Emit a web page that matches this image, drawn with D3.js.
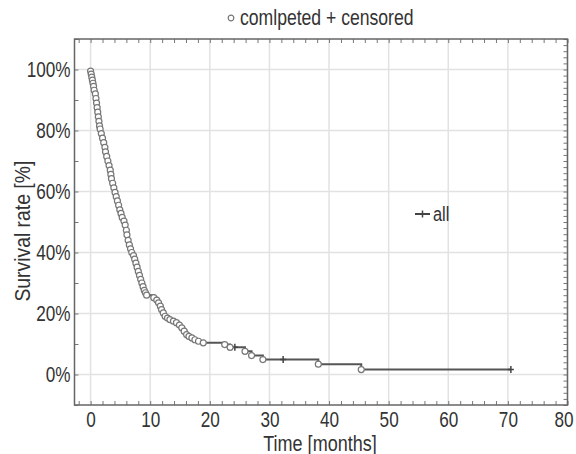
<!DOCTYPE html>
<html>
<head>
<meta charset="utf-8">
<script src="https://cdn.jsdelivr.net/npm/d3@7"></script>
<style>
  body { margin: 0; background: #fff; }
  text { font-family: "Liberation Sans Narrow", "Liberation Sans", Arial, sans-serif; fill: #333; }
</style>
</head>
<body>
<div id="chart"></div>
<script>
// completed events (months, survival %)
const eventTimes = [0.0, 0.1, 0.2, 0.3, 0.4, 0.5, 0.6, 0.8, 0.9, 1.0, 1.1, 1.2, 1.3, 1.4, 1.5, 1.6,
  1.8, 2.0, 2.2, 2.4, 2.5, 2.7, 2.9, 3.1, 3.3, 3.4, 3.5, 3.7, 3.9, 4.1, 4.3, 4.5, 4.7, 4.9,
  5.1, 5.3, 5.6, 5.8, 6.0, 6.1, 6.3, 6.5, 6.7, 6.9, 7.2, 7.4, 7.6, 7.8, 8.0, 8.2, 8.4, 8.6,
  8.8, 9.0, 9.2, 9.4, 10.6, 11.1, 11.4, 11.7, 11.9, 12.2, 12.5, 12.9, 13.3, 13.9, 14.4, 14.9,
  15.3, 15.7, 16.1, 16.5, 17.0, 17.5, 18.1, 18.9, 22.5, 23.4, 25.9, 27.0, 28.9, 38.2, 45.4]
const eventSurv = [99.5, 98.5, 97.5, 96.5, 95.5, 94.5, 93.2, 92, 90.5, 89, 87.5, 86, 84.5, 83, 81.5, 80.5,
  79, 77.5, 76, 74.5, 73, 71.5, 70, 68.5, 67, 65.6, 64.2, 62.7, 61.2, 59.7, 58.3, 56.9, 55.5, 54,
  52.8, 51.5, 50.3, 49, 47.3, 45.8, 44, 42.5, 41.2, 40, 39, 37.8, 36.5, 35.2, 33.8, 32.5, 31.2, 30,
  28.8, 27.6, 26.8, 26.0, 25.2, 24.4, 23.5, 22.4, 21.3, 20.2, 19.1, 18.5, 18, 17.5, 17, 16.2,
  15.3, 14.2, 13.1, 12.5, 12, 11.4, 10.9, 10.4, 9.8, 8.9, 7.6, 6.2, 4.9, 3.4, 1.6]
// censored observations
const censorTimes = [24.2, 32.3, 70.5]
const censorSurv = [8.9, 4.9, 1.6]

const xTicks = [0, 10, 20, 30, 40, 50, 60, 70, 80]
const yTicks = [0, 20, 40, 60, 80, 100]

const w = 576, h = 454
const margin = {top: 39, right: 8.5, bottom: 49, left: 74.5}
const width = w - margin.left - margin.right
const height = h - margin.top - margin.bottom
const narrow = 'scale(0.78,1)'

const x = d3.scaleLinear().domain([-2.7, 80]).range([0, width])
const y = d3.scaleLinear().domain([-10, 110]).range([height, 0])

const svg = d3.select('#chart').append('svg')
  .attr('width', w)
  .attr('height', h)

const chart = svg.append('g')
  .attr('transform', 'translate(' + margin.left + ',' + margin.top + ')')

// grid
chart.append('g').selectAll('line')
  .data(xTicks)
  .enter().append('line')
  .attr('x1', d => x(d)).attr('x2', d => x(d))
  .attr('y1', 0).attr('y2', height)
  .attr('stroke', '#e2e2e2').attr('stroke-width', 1.5)

chart.append('g').selectAll('line')
  .data(yTicks)
  .enter().append('line')
  .attr('y1', d => y(d)).attr('y2', d => y(d))
  .attr('x1', 0).attr('x2', width)
  .attr('stroke', '#e2e2e2').attr('stroke-width', 1.5)

// axes (ticks inward)
const xMinor = d3.range(-2, 81, 2)
const yMinor = d3.range(-10, 111, 10)
const yMinorR = d3.range(-10, 111, 2)

chart.append('g')
  .attr('class', 'x axis')
  .attr('transform', 'translate(0,' + height + ')')
  .call(d3.axisBottom(x).tickValues(xMinor).tickSize(-4).tickFormat(''))
chart.append('g')
  .attr('class', 'x axis')
  .call(d3.axisTop(x).tickValues(xMinor).tickSize(-4).tickFormat(''))
chart.append('g')
  .attr('class', 'y axis')
  .call(d3.axisLeft(y).tickValues(yMinor).tickSize(-4).tickFormat(''))
chart.append('g')
  .attr('class', 'y axis')
  .attr('transform', 'translate(' + width + ',0)')
  .call(d3.axisRight(y).tickValues(yMinorR).tickSize(-4).tickFormat(''))

chart.selectAll('.axis path').remove()
chart.selectAll('.axis line').attr('stroke', '#777').attr('stroke-width', 1)

// tick labels
const xl = chart.append('g')
  .attr('transform', 'translate(0,' + height + ')')
  .call(d3.axisBottom(x).tickValues(xTicks).tickSize(0).tickPadding(6))
xl.select('path').remove()
xl.selectAll('text').style('font-size', '22px').attr('fill', '#333')
  .attr('dx', d => d === 80 ? -5 : 0)
  .attr('transform', narrow)

const yl = chart.append('g')
  .call(d3.axisLeft(y).tickValues(yTicks).tickSize(0).tickPadding(5).tickFormat(d => d + '%'))
yl.select('path').remove()
yl.selectAll('text').style('font-size', '22px').attr('fill', '#333')
  .attr('transform', narrow)

// frame
chart.append('rect')
  .attr('width', width).attr('height', height)
  .attr('fill', 'none').attr('stroke', '#666').attr('stroke-width', 1.5)

// KM step line
const steps = [{t: 0, s: 100}]
  .concat(eventTimes.map((t, i) => ({t: t, s: eventSurv[i]})))
  .concat(censorTimes.map((t, i) => ({t: t, s: censorSurv[i]})))
  .sort((a, b) => a.t - b.t)

chart.append('path')
  .datum(steps)
  .attr('fill', 'none')
  .attr('stroke', '#555')
  .attr('stroke-width', 2)
  .attr('d', d3.line().x(d => x(d.t)).y(d => y(d.s)).curve(d3.curveStepAfter))

// censored marks
chart.append('g').selectAll('path')
  .data(censorTimes)
  .enter().append('path')
  .attr('transform', (d, i) => 'translate(' + x(d) + ',' + y(censorSurv[i]) + ')')
  .attr('d', 'M0,-3.5V3.5M-3,0H3')
  .attr('stroke', '#444').attr('stroke-width', 1.5)

// completed events
chart.append('g').selectAll('circle')
  .data(eventTimes)
  .enter().append('circle')
  .attr('cx', d => x(d))
  .attr('cy', (d, i) => y(eventSurv[i]))
  .attr('r', 3)
  .attr('fill', '#fff')
  .attr('stroke', '#777')
  .attr('stroke-width', 1.2)

// legend (inside plot)
const leg = svg.append('g').attr('transform', 'translate(415,214)')
leg.append('line').attr('x1', 0).attr('x2', 15).attr('stroke', '#444').attr('stroke-width', 2)
leg.append('path').attr('d', 'M7.5,-3.5V3.5').attr('stroke', '#444').attr('stroke-width', 1.5)
leg.append('text').attr('transform', 'translate(18,7) ' + narrow).style('font-size', '21px').text('all')

// title
const title = svg.append('g').attr('transform', 'translate(231,18)')
title.append('circle').attr('r', 2.8).attr('fill', '#fff').attr('stroke', '#777').attr('stroke-width', 1.2)
title.append('text').attr('transform', 'translate(9,7) scale(0.8,1)').style('font-size', '22px').text('comlpeted + censored')

// axis titles
svg.append('text')
  .attr('transform', 'translate(320,451) scale(0.82,1)')
  .attr('text-anchor', 'middle')
  .style('font-size', '22px')
  .text('Time [months]')

svg.append('text')
  .attr('transform', 'translate(30,' + (margin.top + y(47)) + ') rotate(-90) scale(0.88,1)')
  .attr('text-anchor', 'middle')
  .style('font-size', '22px')
  .text('Survival rate [%]')
</script>
</body>
</html>
